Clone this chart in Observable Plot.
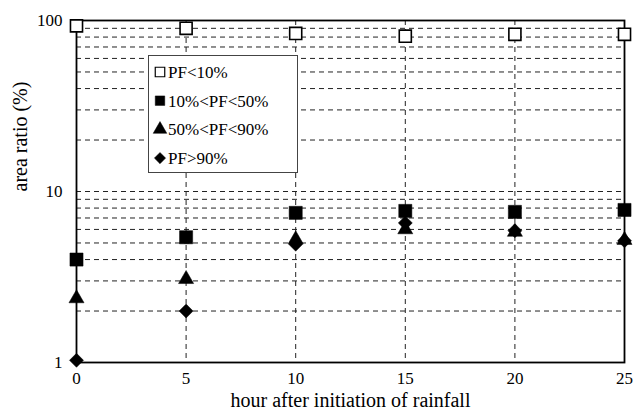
<!DOCTYPE html>
<html>
<head>
<meta charset="utf-8">
<script src="https://cdn.jsdelivr.net/npm/d3@7"></script>
<script src="https://cdn.jsdelivr.net/npm/@observablehq/plot@0.6"></script>
<style>
  html, body { margin: 0; padding: 0; background: white; }
  #wrap { position: relative; width: 633px; height: 413px; }
  #legend { position: absolute; left: 148px; top: 55px; }
</style>
</head>
<body>
<div id="wrap"><div id="chart"></div><div id="legend"></div></div>
<script>
const hours = [0, 5, 10, 15, 20, 25];
const seriesNames = ["PF<10%", "10%<PF<50%", "50%<PF<90%", "PF>90%"];
const pfLt10 = [93, 90, 84, 81, 83, 83];
const pf10to50 = [4.0, 5.4, 7.5, 7.7, 7.6, 7.8];
const pf50to90 = [2.37, 3.07, 5.24, 6.0, 5.8, 5.2];
const pfGt90 = [1.03, 2.0, 4.92, 6.55, 5.9, 5.15];
const xTicks = [0, 5, 10, 15, 20, 25];
const yTicks = [1, 10, 100];
const yGrid = [2, 3, 4, 5, 6, 7, 8, 9, 10, 20, 30, 40, 50, 60, 70, 80, 90];
const xGrid = [5, 10, 15, 20];
const xLabel = "hour after initiation of rainfall";
const yLabel = "area ratio (%)";

const toRows = (vals) => hours.map((h, i) => ({hour: h, value: vals[i]}));

// pick an installed serif face
function pickFont(cands) {
  const c = document.createElement("canvas").getContext("2d");
  const sample = "hour after initiation of rainfall 0123456789 (%) WMil";
  const w = (f) => { c.font = `40px ${f}`; return c.measureText(sample).width; };
  for (const cand of cands) {
    const q = `"${cand}"`;
    if (w(`${q}, monospace`) !== w("monospace") || w(`${q}, sans-serif`) !== w("sans-serif")) {
      if (w(`${q}, monospace`) === w(`${q}, sans-serif`)) return q;
    }
  }
  return "serif";
}
const font = pickFont(["Liberation Serif", "Times New Roman", "Tinos", "DejaVu Serif", "Noto Serif", "FreeSerif", "Nimbus Roman", "Nimbus Roman No9 L", "Times"]) + ", serif";

const chart = Plot.plot({
  width: 633,
  height: 413,
  marginLeft: 76,
  marginRight: 9,
  marginTop: 20,
  marginBottom: 51,
  style: {fontFamily: font, fontSize: "17px", background: "white", color: "black"},
  x: {domain: [0, 25]},
  y: {type: "log", domain: [1, 100]},
  marks: [
    Plot.ruleY(yGrid, {stroke: "#222", strokeWidth: 1, strokeDasharray: "5,4"}),
    Plot.ruleX(xGrid, {stroke: "#222", strokeWidth: 1, strokeDasharray: "5,4"}),
    Plot.frame({stroke: "black", strokeWidth: 1.8}),
    Plot.axisX({ticks: xTicks, tickSize: 0, tickPadding: 9, tickFormat: d => String(d), label: null, fontSize: 17}),
    Plot.axisY({ticks: yTicks, tickSize: 0, tickPadding: 14, tickFormat: d => String(d), label: null, fontSize: 17}),
    Plot.text([xLabel], {frameAnchor: "bottom", dy: 38, text: d => d, fontSize: 20, lineAnchor: "middle"}),
    Plot.text([yLabel], {frameAnchor: "left", dx: -56, rotate: -90, text: d => d, fontSize: 20, lineAnchor: "middle"}),
    Plot.dot(toRows(pfGt90), {x: "hour", y: "value", symbol: "diamond2", r: 6.3, fill: "black", stroke: "black", strokeWidth: 0.5}),
    Plot.dot(toRows(pf50to90), {x: "hour", y: "value", symbol: "triangle", r: 5.6, fill: "black", stroke: "black", strokeWidth: 0.5}),
    Plot.dot(toRows(pf10to50), {x: "hour", y: "value", symbol: "square", r: 7.4, fill: "black", stroke: "black", strokeWidth: 0.5}),
    Plot.dot(toRows(pfLt10), {x: "hour", y: "value", symbol: "square", r: 6.8, fill: "white", stroke: "black", strokeWidth: 1.6})
  ]
});
document.getElementById("chart").appendChild(chart);

// Legend
const legendSymbols = [
  {type: d3.symbolSquare, fill: "white", stroke: "black", sw: 1.2, size: 90},
  {type: d3.symbolSquare, fill: "black", stroke: "black", sw: 0.5, size: 90},
  {type: d3.symbolTriangle, fill: "black", stroke: "black", sw: 0.5, size: 80},
  {type: d3.symbolDiamond2, fill: "black", stroke: "black", sw: 0.5, size: 80}
];
const lw = 150, lh = 118;
const lsvg = d3.select("#legend").append("svg")
  .attr("width", lw).attr("height", lh)
  .style("font-family", font).style("font-size", "17px");
lsvg.append("rect").attr("x", 0.5).attr("y", 0.5).attr("width", lw - 1).attr("height", lh - 1)
  .attr("fill", "white").attr("stroke", "#444").attr("stroke-width", 1);
seriesNames.forEach((name, i) => {
  const cy = 17 + i * 28.7;
  const s = legendSymbols[i];
  lsvg.append("path")
    .attr("d", d3.symbol(s.type, s.size)())
    .attr("transform", `translate(12,${cy})`)
    .attr("fill", s.fill).attr("stroke", s.stroke).attr("stroke-width", s.sw);
  lsvg.append("text").attr("x", 20).attr("y", cy).attr("dy", "0.35em").text(name);
});
</script>
</body>
</html>
